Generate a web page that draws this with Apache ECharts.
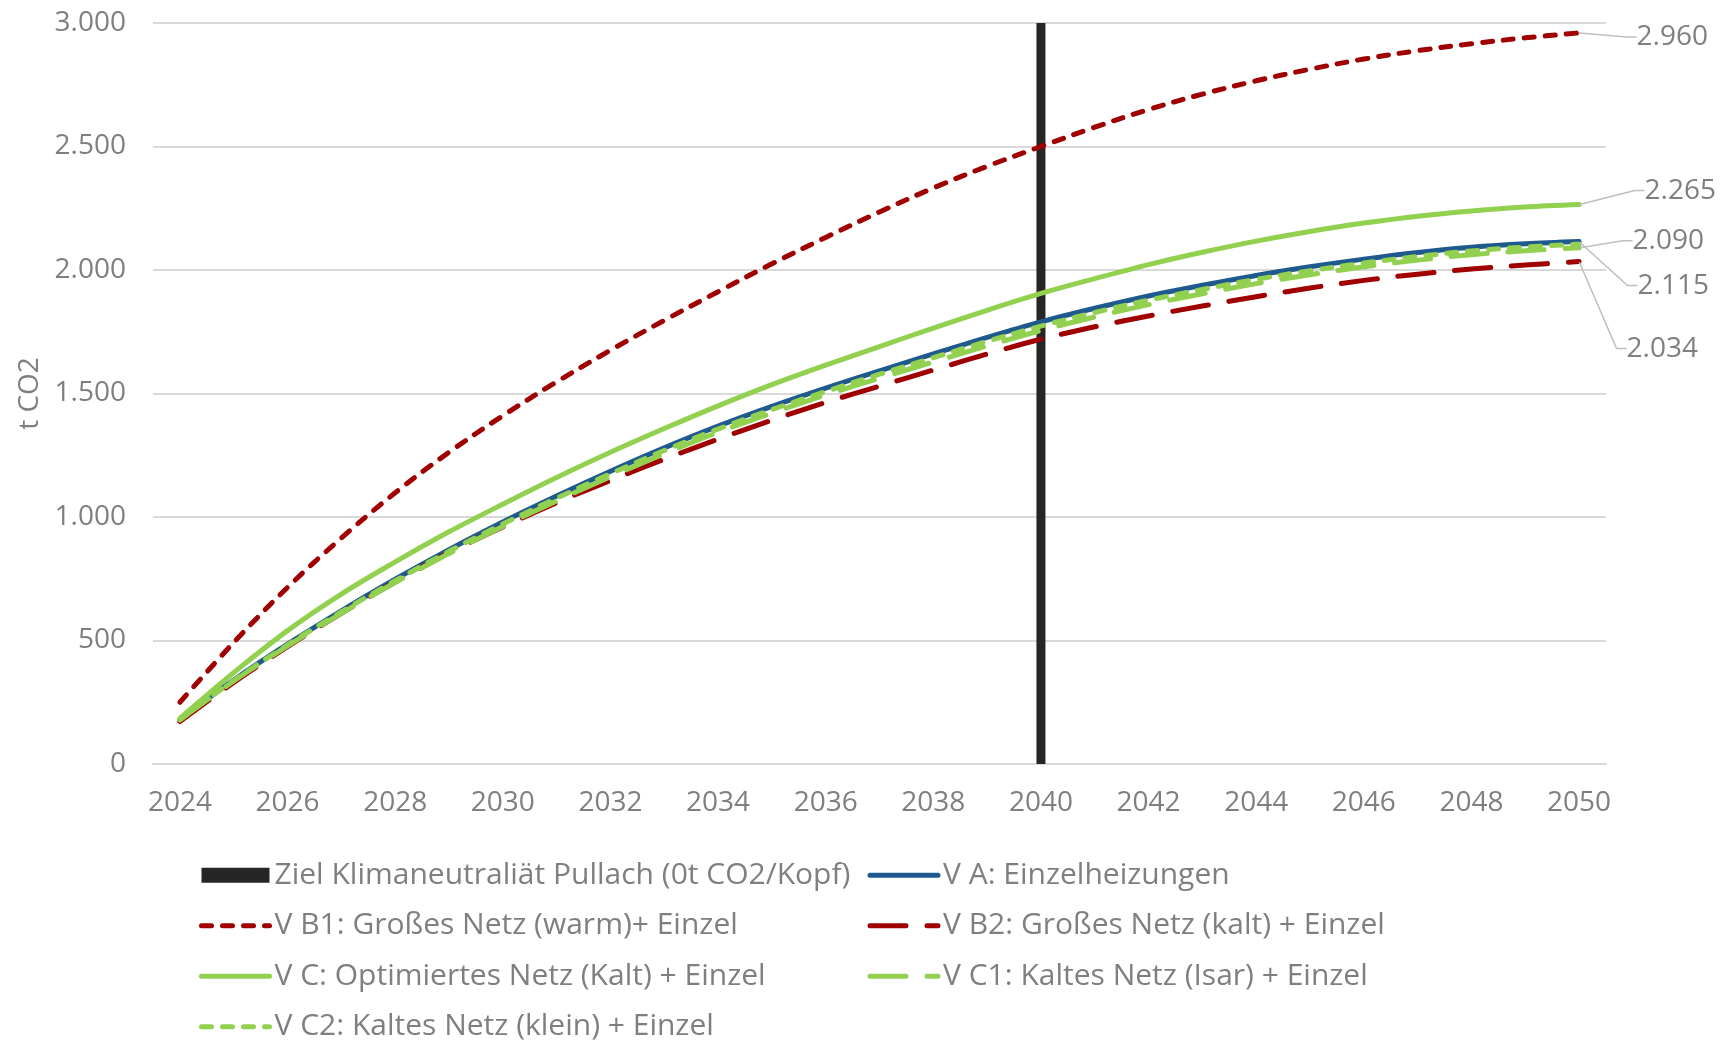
<!DOCTYPE html>
<html>
<head>
<meta charset="utf-8">
<script src="https://cdn.jsdelivr.net/npm/echarts@6/dist/echarts.min.js"></script>
<style>
  html, body { margin: 0; padding: 0; background: #ffffff; }
  #chart { width: 1721px; height: 1041px; }
</style>
</head>
<body>
<div id="chart"></div>
<script>
// Cumulative CO2 emissions (t CO2) per heating scenario, 2024-2050
const years = ['2024','2025','2026','2027','2028','2029','2030','2031','2032','2033','2034','2035','2036','2037',
               '2038','2039','2040','2041','2042','2043','2044','2045','2046','2047','2048','2049','2050'];

// Climate-neutrality target year marker
const targetYear = '2040';
const targetLevel = 3000;

const vA  = [180, 340, 485, 620, 748, 868, 980, 1085, 1185, 1280, 1368, 1448, 1522, 1592,
             1660, 1727, 1790, 1845, 1895, 1938, 1978, 2013, 2044, 2071, 2092, 2106, 2115];
const vB1 = [250, 492, 715, 915, 1098, 1262, 1410, 1547, 1675, 1796, 1912, 2025, 2132, 2235,
             2332, 2420, 2500, 2578, 2650, 2712, 2766, 2813, 2854, 2888, 2916, 2940, 2960];
const vB2 = [172, 330, 475, 610, 737, 855, 960, 1058, 1148, 1234, 1315, 1392, 1464, 1530,
             1595, 1660, 1720, 1770, 1814, 1854, 1892, 1927, 1958, 1983, 2004, 2020, 2034];
const vC  = [185, 370, 540, 688, 818, 940, 1052, 1160, 1262, 1358, 1450, 1536, 1615, 1690,
             1765, 1837, 1905, 1965, 2022, 2072, 2117, 2156, 2190, 2218, 2239, 2255, 2265];
const vC1 = [178, 336, 478, 610, 735, 852, 962, 1065, 1163, 1256, 1343, 1421, 1494, 1562,
             1628, 1693, 1755, 1810, 1860, 1904, 1945, 1981, 2013, 2040, 2062, 2078, 2090];
const vC2 = [180, 338, 482, 616, 742, 861, 972, 1076, 1175, 1269, 1356, 1435, 1508, 1578,
             1645, 1711, 1773, 1828, 1878, 1921, 1962, 1997, 2028, 2055, 2077, 2093, 2105];

const FONT = 'Open Sans';
const TEXT_GREY = '#7f7f7f';
const GRID_GREY = '#d9d9d9';
const RED = '#a00000';
const GREEN = '#92d050';
const BLUE = '#1f5a8f';
const LINE_W = 5;
const SHORT_DASH = [10, 11];
const LONG_DASH = [36, 21];

// German thousands separator: 2960 -> "2.960"
const fmt = v => String(Math.round(v)).replace(/\B(?=(\d{3})+(?!\d))/g, '.');

function lineSeries(name, values, color, dash, labelShift) {
  const last = values.length - 1;
  const s = {
    name: name,
    type: 'line',
    smooth: 0.35,
    symbol: 'none',
    showSymbol: true,
    showAllSymbol: true,
    lineStyle: { color: color, width: LINE_W, type: dash, cap: 'round' },
    itemStyle: { color: color },
    emphasis: { disabled: true },
    data: values.map((v, i) => (labelShift && i === last)
      ? { value: v, symbol: 'circle', symbolSize: 1, label: { show: true } }
      : v),
    label: {
      show: false,
      position: 'right',
      distance: 5,
      fontFamily: FONT,
      fontSize: 28,
      color: TEXT_GREY,
      formatter: p => fmt(p.value)
    },
    labelLine: { show: true, length2: 10, lineStyle: { color: '#bfbfbf', width: 1.5 } }
  };
  if (labelShift) {
    s.labelLayout = p => ({
      x: p.labelRect.x + labelShift[0],
      y: p.labelRect.y + p.labelRect.height / 2 + labelShift[1],
      align: 'left',
      verticalAlign: 'middle'
    });
  }
  return s;
}

const targetName = 'Ziel Klimaneutraliät Pullach (0t CO2/Kopf)';

const chart = echarts.init(document.getElementById('chart'), null, { renderer: 'canvas' });
chart.setOption({
  animation: false,
  backgroundColor: '#ffffff',
  textStyle: { fontFamily: FONT },
  grid: { left: 153, right: 115, top: 23, bottom: 277, containLabel: false, outerBoundsMode: 'none' },
  xAxis: {
    type: 'category',
    data: years,
    boundaryGap: true,
    axisLine: { show: true, lineStyle: { color: GRID_GREY, width: 2 } },
    axisTick: { show: false },
    axisLabel: { interval: 1, margin: 25, fontFamily: FONT, fontSize: 28, color: TEXT_GREY },
    splitLine: { show: false }
  },
  yAxis: {
    type: 'value',
    min: 0,
    max: 3000,
    interval: 500,
    name: 't CO2',
    nameLocation: 'middle',
    nameRotate: 90,
    nameGap: 109,
    nameTextStyle: { fontFamily: FONT, fontSize: 28, color: TEXT_GREY },
    axisLine: { show: false },
    axisTick: { show: false },
    axisLabel: { margin: 27, fontFamily: FONT, fontSize: 28, color: TEXT_GREY, formatter: v => fmt(v) },
    splitLine: { show: true, lineStyle: { color: GRID_GREY, width: 2 } }
  },
  legend: {
    left: 199,
    top: 855,
    padding: 0,
    width: 1450,
    itemWidth: 68,
    itemHeight: 15,
    itemGap: 10,
    selectedMode: false,
    itemStyle: { opacity: 0 },
    lineStyle: { width: LINE_W, cap: 'round' },
    textStyle: { fontFamily: FONT, fontSize: 30, color: TEXT_GREY, width: 583, lineHeight: 40.5 },
    data: [
      { name: targetName, icon: 'rect', itemStyle: { opacity: 1 } },
      'V A: Einzelheizungen',
      'V B1: Großes Netz (warm)+ Einzel',
      'V B2: Großes Netz (kalt) + Einzel',
      'V C: Optimiertes Netz (Kalt) + Einzel',
      'V C1: Kaltes Netz (Isar) + Einzel',
      'V C2: Kaltes Netz (klein) + Einzel'
    ]
  },
  series: [
    {
      name: targetName,
      type: 'bar',
      barWidth: 9,
      itemStyle: { color: '#262626' },
      emphasis: { disabled: true },
      data: years.map(y => (y === targetYear ? targetLevel : null))
    },
    lineSeries('V A: Einzelheizungen', vA, BLUE, 'solid', [53, 44]),
    lineSeries('V B1: Großes Netz (warm)+ Einzel', vB1, RED, SHORT_DASH, [52, 4]),
    lineSeries('V B2: Großes Netz (kalt) + Einzel', vB2, RED, LONG_DASH, [42, 87]),
    lineSeries('V C: Optimiertes Netz (Kalt) + Einzel', vC, GREEN, 'solid', [60, -14]),
    lineSeries('V C1: Kaltes Netz (Isar) + Einzel', vC1, GREEN, LONG_DASH, [48, -7]),
    lineSeries('V C2: Kaltes Netz (klein) + Einzel', vC2, GREEN, SHORT_DASH, null)
  ]
});
</script>
</body>
</html>
